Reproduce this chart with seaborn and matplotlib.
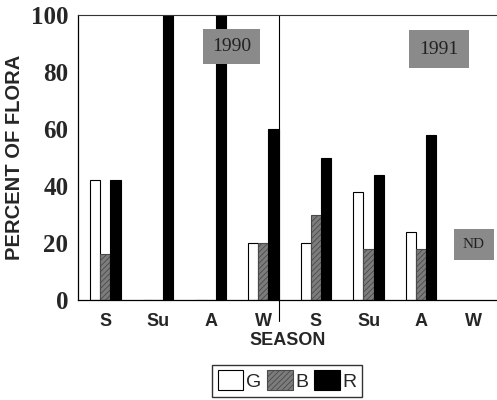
import matplotlib
matplotlib.use("Agg")
import matplotlib.pyplot as plt
import seaborn as sns
import pandas as pd
import numpy as np

seasons = ["S", "Su", "A", "W", "S", "Su", "A", "W"]
keys = ["S90", "Su90", "A90", "W90", "S91", "Su91", "A91", "W91"]
G = [42, 0, 0, 20, 20, 38, 24, np.nan]
B = [16, 0, 0, 20, 30, 18, 18, np.nan]
R = [42, 100, 100, 60, 50, 44, 58, np.nan]
groups = ["G", "B", "R"]

rows = []
for k, g, b, r in zip(keys, G, B, R):
    rows += [(k, "G", g), (k, "B", b), (k, "R", r)]
df = pd.DataFrame(rows, columns=["key", "grp", "val"])

plt.rcParams["hatch.linewidth"] = 0.6
sns.set_style("white")
fig = plt.figure(figsize=(4.97, 4.0), dpi=100)
ax = fig.add_axes([0.157, 0.25, 0.843, 0.7125])

gray = "#7c7c7c"
palette = {"G": "white", "B": gray, "R": "black"}
sns.barplot(data=df, x="key", y="val", hue="grp", order=keys, hue_order=groups,
            palette=palette, width=0.58, gap=0, edgecolor="black", linewidth=0.8,
            ax=ax, legend=True)

for cont, grp in zip(ax.containers, groups):
    for p in cont:
        if grp == "B":
            p.set_hatch("//////")
            p.set_edgecolor("#4a4a4a")

ax.set_xlim(-0.52, 7.44)
ax.set_ylim(0, 100)
ax.set_yticks([0, 20, 40, 60, 80, 100])
ax.set_yticks(np.arange(10, 100, 20), minor=True)
ax.set_yticklabels(["0", "20", "40", "60", "80", "100"], family="Liberation Serif",
                   fontweight="bold", fontsize=18)
ax.set_xticks(range(8))
ax.set_xticklabels(seasons, family="Liberation Sans", fontweight="bold", fontsize=13)
ax.set_xticks(np.arange(-0.5, 7, 1), minor=True)
ax.tick_params(axis="x", which="major", length=0, pad=9)
ax.tick_params(axis="x", which="minor", length=7, direction="inout", width=0.8)
ax.tick_params(axis="y", which="major", length=8, direction="inout", width=0.8, pad=3)
ax.tick_params(axis="y", which="minor", length=5, direction="inout", width=0.8)

ax.set_xlabel("SEASON", family="Liberation Sans", fontweight="bold", fontsize=13, labelpad=2)
ax.set_ylabel("PERCENT OF FLORA", family="Liberation Sans", fontweight="bold", fontsize=14.5, labelpad=5)

for s in ["left", "bottom"]:
    ax.spines[s].set_linewidth(0.9)
    ax.spines[s].set_color("black")
ax.spines["top"].set_linestyle((0, (3, 1)))
ax.spines["top"].set_linewidth(0.8)
ax.spines["top"].set_color("#333333")
ax.spines["right"].set_visible(False)

ax.axvline(3.3, ymin=-0.075, ymax=1, color="black", linewidth=0.8, clip_on=False)

def box(x, y, txt, fs, pad):
    t = ax.text(x, y, txt, ha="center", va="center", family="Liberation Serif",
                fontsize=fs, color="#222222",
                bbox=dict(boxstyle="square,pad=%s" % pad, facecolor="#8a8a8a",
                          edgecolor="#8a8a8a", linewidth=0))
    t.get_bbox_patch().set_hatch("/////")
    return t

box(2.4, 89, "1990", 14, 0.45)
box(6.34, 88, "1991", 14, 0.55)
box(7.0, 19.5, "ND", 11, 0.6)

ax.get_legend().remove()
handles = [plt.Rectangle((0, 0), 1, 1, facecolor="white", edgecolor="black", linewidth=0.8),
           plt.Rectangle((0, 0), 1, 1, facecolor=gray, edgecolor="#4a4a4a", hatch="//////", linewidth=0.8),
           plt.Rectangle((0, 0), 1, 1, facecolor="black", edgecolor="black", linewidth=0.8)]
leg = fig.legend(handles, groups, loc="lower center", bbox_to_anchor=(0.578, 0.008), ncol=3,
                 frameon=True, fancybox=False, edgecolor="black", handlelength=1.3,
                 handleheight=1.2, handletextpad=0.15, columnspacing=0.3, borderpad=0.3,
                 borderaxespad=0, prop={"family": "Liberation Sans", "size": 14})
leg.get_frame().set_linewidth(1.0)

fig.savefig("out.png", dpi=100)
